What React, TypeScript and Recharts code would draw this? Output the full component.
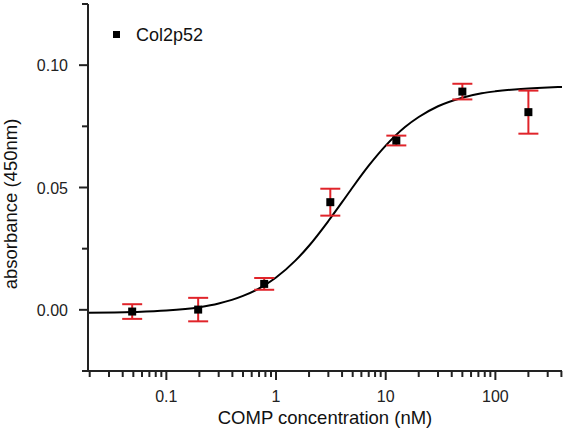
import React from 'react';
import { ComposedChart, Line, Scatter, ErrorBar, XAxis, YAxis } from 'recharts';

// measured points (COMP concentration nM, absorbance, error)
const concentrations = [0.0488, 0.195, 0.78, 3.125, 12.5, 50, 200];
const absorbance = [-0.0007, 0.0001, 0.0106, 0.044, 0.0692, 0.0892, 0.0808];
const errors = [0.003, 0.0048, 0.0024, 0.0055, 0.002, 0.0032, 0.0088];

// fitted curve
const curveX = [0.0193, 0.05, 0.1, 0.2, 0.3, 0.5, 0.75, 1, 1.5, 2, 3, 4, 5, 7, 10, 15, 20, 30, 50, 75, 100, 150, 200, 300, 405];
const curveY = [-0.0012, -0.0009, -0.0003, 0.0011, 0.0026, 0.0057, 0.0095, 0.0132, 0.0201, 0.0262, 0.0363, 0.044, 0.0501, 0.0589, 0.0671, 0.0747, 0.0788, 0.0832, 0.0867, 0.0885, 0.0893, 0.0901, 0.0905, 0.0909, 0.0911];

const xTicks = [0.02, 0.03, 0.04, 0.05, 0.06, 0.07, 0.08, 0.09, 0.1, 0.2, 0.3, 0.4, 0.5, 0.6, 0.7, 0.8, 0.9, 1, 2, 3, 4, 5, 6, 7, 8, 9, 10, 20, 30, 40, 50, 60, 70, 80, 90, 100, 200, 300, 400];
const xMajor = [0.1, 1, 10, 100];
const yTicks = [-0.025, 0, 0.025, 0.05, 0.075, 0.1, 0.125];
const yMajor = [0, 0.05, 0.1];

const seriesName = 'Col2p52';
const xTitle = 'COMP concentration (nM)';
const yTitle = 'absorbance (450nm)';

const points = concentrations.map((x, i) => ({ x, y: absorbance[i], err: errors[i] }));
const curve = curveX.map((x, i) => ({ x, y: curveY[i] }));

const FONT = '"Liberation Sans", Arial, sans-serif';
const AX = '#222';

const XTick = (props: any) => {
  const { x, y, payload } = props;
  const v = payload.value;
  const major = xMajor.includes(v);
  return (
    <g>
      <line x1={x} x2={x} y1={y} y2={y + (major ? 9 : 6)} stroke={AX} strokeWidth={2} />
      {major && (
        <text x={x} y={y + 31} textAnchor="middle" fontSize={16} fontFamily={FONT} fill={AX}>
          {String(v)}
        </text>
      )}
    </g>
  );
};

const YTick = (props: any) => {
  const { x, y, payload } = props;
  const v = payload.value;
  const major = yMajor.some((m) => Math.abs(m - v) < 1e-9);
  return (
    <g>
      <line x1={x - (major ? 9 : 6)} x2={x} y1={y} y2={y} stroke={AX} strokeWidth={2} />
      {major && (
        <text x={x - 20} y={y + 6} textAnchor="end" fontSize={16} fontFamily={FONT} fill={AX}>
          {v.toFixed(2)}
        </text>
      )}
    </g>
  );
};

export default function App() {
  return (
    <div style={{ position: 'absolute', left: 0, top: 0, background: '#fff' }}>
      <ComposedChart width={566} height={431} margin={{ top: 4, right: 4, left: 8, bottom: 0 }}>
        <XAxis
          dataKey="x"
          type="number"
          scale="log"
          domain={[0.0193, 405]}
          allowDataOverflow
          ticks={xTicks}
          interval={0}
          tickSize={0}
          tickMargin={0}
          tickLine={false}
          tick={<XTick />}
          height={60}
          axisLine={{ stroke: AX, strokeWidth: 2 }}
        />
        <YAxis
          type="number"
          domain={[-0.025, 0.125]}
          allowDataOverflow
          ticks={yTicks}
          interval={0}
          tickSize={0}
          tickMargin={0}
          tickLine={false}
          tick={<YTick />}
          width={80}
          axisLine={{ stroke: AX, strokeWidth: 2 }}
        />
        <Line
          data={curve}
          dataKey="y"
          type="monotone"
          stroke="#000"
          strokeWidth={2}
          dot={false}
          activeDot={false}
          isAnimationActive={false}
        />
        <Scatter data={points} dataKey="y" fill="#000" shape="square" isAnimationActive={false}>
          <ErrorBar dataKey="err" direction="y" width={10} stroke="#e0242a" strokeWidth={2} />
        </Scatter>
        <rect x={113} y={31} width={7} height={7} fill="#000" />
        <text x={136} y={41} fontSize={18} fontFamily={FONT} fill="#111">{seriesName}</text>
        <text x={325} y={424} textAnchor="middle" fontSize={18.5} fontFamily={FONT} fill="#111">{xTitle}</text>
        <text
          x={17}
          y={204}
          textAnchor="middle"
          fontSize={18.5}
          fontFamily={FONT}
          fill="#111"
          transform="rotate(-90 17 204)"
        >
          {yTitle}
        </text>
      </ComposedChart>
    </div>
  );
}
